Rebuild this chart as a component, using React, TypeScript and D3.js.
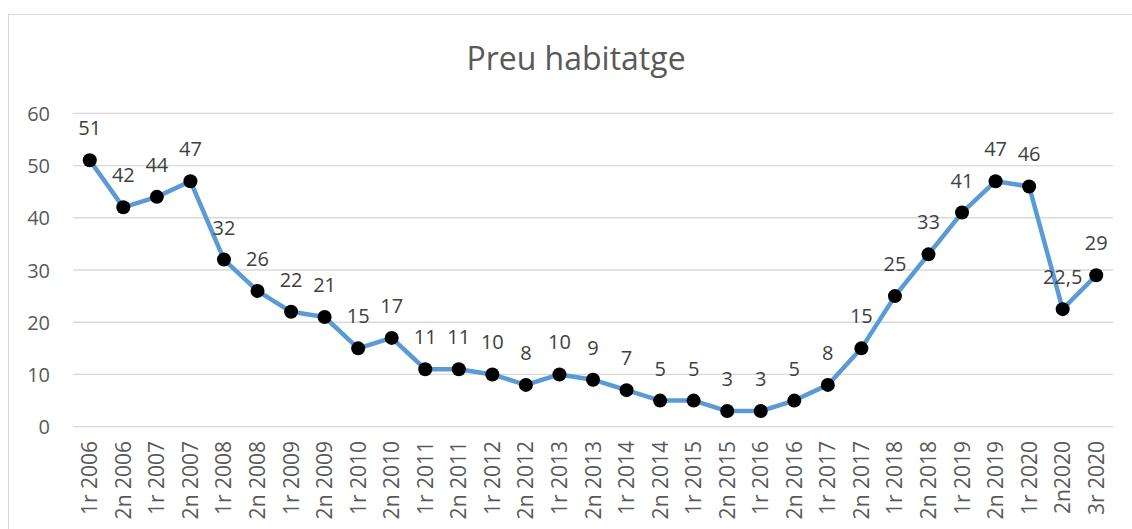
import React, { useEffect, useRef } from "react";
import * as d3 from "d3";

const periods = [
  "1r 2006", "2n 2006", "1r 2007", "2n 2007", "1r 2008", "2n 2008",
  "1r 2009", "2n 2009", "1r 2010", "2n 2010", "1r 2011", "2n 2011",
  "1r 2012", "2n 2012", "1r 2013", "2n 2013", "1r 2014", "2n 2014",
  "1r 2015", "2n 2015", "1r 2016", "2n 2016", "1r 2017", "2n 2017",
  "1r 2018", "2n 2018", "1r 2019", "2n 2019", "1r 2020", "2n2020", "3r 2020",
];
const prices = [
  51, 42, 44, 47, 32, 26, 22, 21, 15, 17, 11, 11, 10, 8, 10, 9, 7, 5, 5, 3,
  3, 5, 8, 15, 25, 33, 41, 47, 46, 22.5, 29,
];
const yTicks = [0, 10, 20, 30, 40, 50, 60];
const title = "Preu habitatge";

export default function App() {
  const svgRef = useRef<SVGSVGElement>(null);

  useEffect(() => {
    const svg = d3.select(svgRef.current);
    svg.selectAll("*").remove();

    const width = 1132, height = 529;
    const left = 73, right = 1113, top = 113.3, bottom = 426.7;
    const font = "'Open Sans', sans-serif";
    const grey = "#595959";

    svg.attr("width", width).attr("height", height);

    svg.append("rect")
      .attr("x", 8.5).attr("y", 14.5)
      .attr("width", 1140).attr("height", 530)
      .attr("fill", "#fff").attr("stroke", "#d9d9d9");

    const x = d3.scaleBand().domain(periods).range([left, right]);
    const y = d3.scaleLinear().domain([0, 60]).range([bottom, top]);
    const cx = (i: number) => (x(periods[i]) as number) + x.bandwidth() / 2;

    // gridlines + y labels
    svg.append("g").selectAll("line")
      .data(yTicks).enter().append("line")
      .attr("x1", left).attr("x2", right)
      .attr("y1", d => y(d)).attr("y2", d => y(d))
      .attr("stroke", "#d9d9d9").attr("stroke-width", 1.3);

    svg.append("g").selectAll("text")
      .data(yTicks).enter().append("text")
      .attr("x", 50).attr("y", d => y(d) + 7.5)
      .attr("text-anchor", "end")
      .style("font-family", font).style("font-size", "20px")
      .attr("fill", grey)
      .text(d => d);

    // x labels
    svg.append("g").selectAll("text")
      .data(periods).enter().append("text")
      .attr("transform", (d, i) => `translate(${cx(i) + 7.5},441) rotate(-90)`)
      .attr("text-anchor", "end")
      .style("font-family", font).style("font-size", "21px")
      .attr("fill", grey)
      .text(d => d);

    // title
    svg.append("text")
      .attr("x", 576).attr("y", 70)
      .attr("text-anchor", "middle")
      .style("font-family", font).style("font-size", "32px")
      .attr("fill", grey)
      .text(title);

    // line
    const line = d3.line<number>().x((d, i) => cx(i)).y(d => y(d));
    svg.append("path")
      .datum(prices)
      .attr("d", line)
      .attr("fill", "none")
      .attr("stroke", "#5b9bd5")
      .attr("stroke-width", 4.5)
      .attr("stroke-linejoin", "round");

    svg.append("g").selectAll("circle")
      .data(prices).enter().append("circle")
      .attr("cx", (d, i) => cx(i)).attr("cy", d => y(d))
      .attr("r", 7).attr("fill", "#000");

    svg.append("g").selectAll("text")
      .data(prices).enter().append("text")
      .attr("x", (d, i) => cx(i)).attr("y", d => y(d) - 25)
      .attr("text-anchor", "middle")
      .style("font-family", font).style("font-size", "20px")
      .attr("fill", "#404040")
      .text(d => String(d).replace(".", ","));
  }, []);

  return (
    <svg ref={svgRef} style={{ position: "absolute", left: 0, top: 0 }}></svg>
  );
}
